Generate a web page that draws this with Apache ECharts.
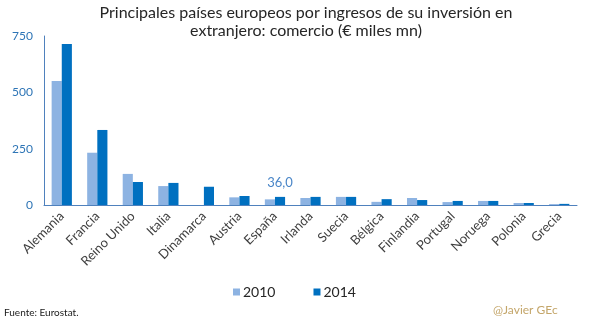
<!DOCTYPE html>
<html><head><meta charset="utf-8">
<script src="https://cdn.jsdelivr.net/npm/echarts@6/dist/echarts.min.js"></script>
<style>html,body{margin:0;padding:0;background:#fff}#c{width:605px;height:324px}</style>
</head><body><div id="c"></div>
<script>
const categories = ['Alemania','Francia','Reino Unido','Italia','Dinamarca','Austria','España','Irlanda','Suecia','Bélgica','Finlandia','Portugal','Noruega','Polonia','Grecia'];
const values2010 = [550, 232, 138, 84, null, 34, 25, 31, 36, 14, 31, 13, 18, 9, 4];
const values2014 = [715, 333, 102, 98, 81, 40, 36, 36, 36, 26, 22, 18, 18, 9, 5];
const yTicks = [0, 250, 500, 750];
const labelIndex = 6;

const chart = echarts.init(document.getElementById('c'), null, {renderer:'canvas'});
const font = 'Lato, "Open Sans", sans-serif';
chart.setOption({
  animation:false,
  title:{text:'Principales países europeos por ingresos de su inversión en\nextranjero: comercio (€ miles mn)', left:301, textAlign:'center', top:-1,
    textStyle:{fontFamily:font, fontSize:16, fontWeight:'normal', color:'#262626', lineHeight:18}},
  legend:{data:['2010','2014'], left:228, top:280, itemWidth:7, itemHeight:7, itemGap:38,
    textStyle:{fontFamily:font, fontSize:14, color:'#262626', padding:[0,0,0,-2]}, icon:'rect'},
  grid:{left:44, right:28, top:36, bottom:119, containLabel:false},
  xAxis:{type:'category', data:categories,
    axisLine:{lineStyle:{color:'#4f81bd', width:1}}, axisTick:{show:false},
    axisLabel:{rotate:45, interval:0, fontFamily:font, fontSize:13, color:'#404040', margin:9}},
  yAxis:{type:'value', min:yTicks[0], max:yTicks[yTicks.length-1], interval:250,
    axisLine:{show:true, lineStyle:{color:'#4f81bd', width:1}}, axisTick:{show:false}, splitLine:{show:false},
    axisLabel:{fontFamily:font, fontSize:12, color:'#2e75b6', margin:11}},
  series:[
    {name:'2010', type:'bar', data:values2010, barGap:'0%', barCategoryGap:'43%', itemStyle:{color:'#8db3e2'}},
    {name:'2014', type:'bar', data:values2014.map((v,i)=> i===labelIndex ? {value:v, label:{show:true, position:'top', distance:8, formatter:p=>p.value.toFixed(1).replace('.',','), fontFamily:font, fontSize:13, color:'#4a86c8'}} : v),
      itemStyle:{color:'#0070c0'}}
  ],
  graphic:[
    {type:'text', left:4, top:308, style:{text:'Fuente: Eurostat.', font:'10px '+font, fill:'#1a1a1a'}},
    {type:'text', left:493, top:304, style:{text:'@Javier GEc', font:'12px '+font, fill:'#c4a66a'}}
  ]
});
</script></body></html>
